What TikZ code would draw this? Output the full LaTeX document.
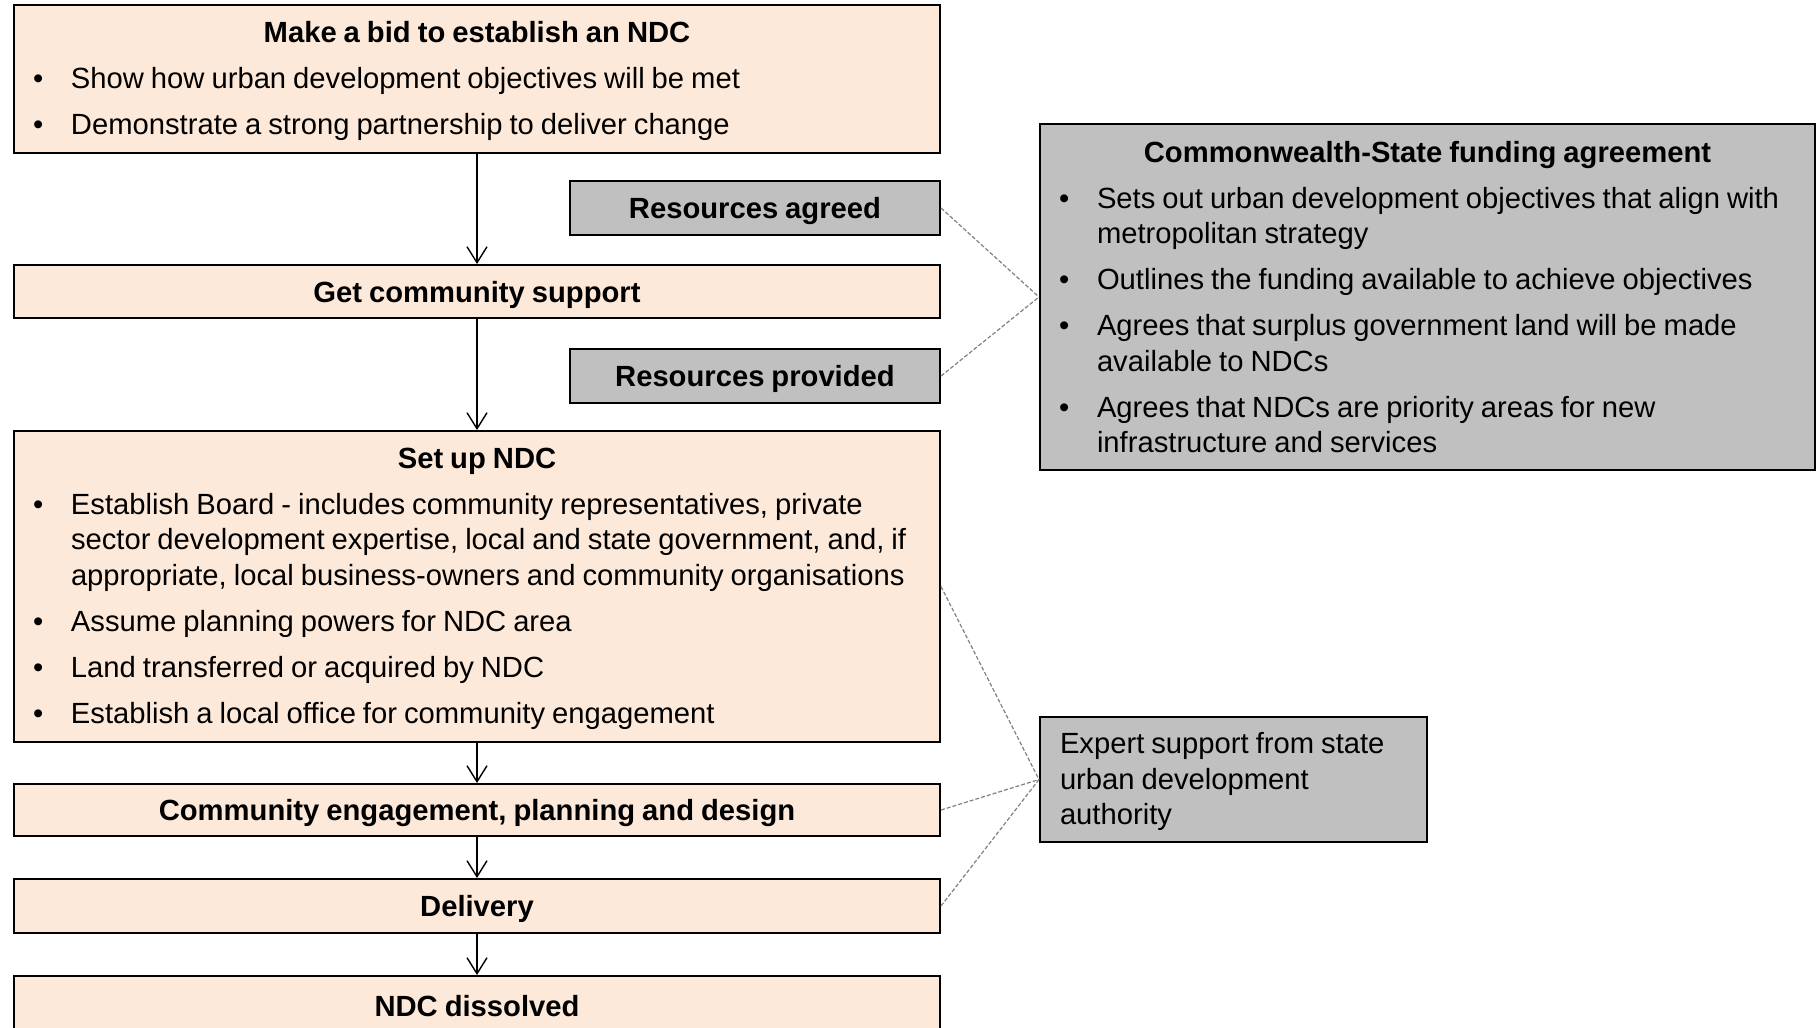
\documentclass[tikz,border=0pt]{standalone}
\usepackage{fontspec}
\setmainfont{Liberation Sans}
\usepackage{xcolor}
\usepackage{tikz}
\usetikzlibrary{arrows.meta}

\definecolor{peach}{HTML}{FDE9D9}
\definecolor{boxgrey}{HTML}{C0C0C0}
\definecolor{linkgrey}{HTML}{808080}

\hyphenpenalty=10000
\exhyphenpenalty=10000

\newcommand{\boxtitle}[1]{{\centering\bfseries #1\par}}
\newcommand{\bul}[1]{{\raggedright\noindent\hangindent=19pt\hangafter=1\makebox[19pt][l]{\textbullet}#1\par}}

\tikzset{
  stagebox/.style={rectangle, draw, line width=1pt, fill=peach,
                   minimum width=463pt, inner sep=0pt},
  greybox/.style={rectangle, draw, line width=1pt, fill=boxgrey, inner sep=0pt},
  tightspace/.style={execute at begin node={\spaceskip=3.5pt plus 1.5pt minus 0.6pt\relax}},
  bodytext/.style={inner xsep=9.5pt, inner ysep=0pt,
                   font=\fontsize{14.6}{17.7}\selectfont,
                   execute at begin node={\setlength{\parskip}{5.3pt}%
                     \spaceskip=3.5pt plus 1.5pt minus 0.6pt\relax}},
  labeltext/.style={inner sep=0pt, yshift=-1.5pt,
                    font=\fontsize{14.6}{17.7}\selectfont\bfseries, tightspace}
}

\begin{document}
\begin{tikzpicture}[x=0.5pt, y=-0.5pt, ->, >={Straight Barb[length=8pt,width=10pt]}]

    \clip (0,0) rectangle (1816,1028);

    % stages on the left
    \node[stagebox, minimum height=74pt] (bid) at (477,79) {};
    \node[bodytext, text width=444pt, yshift=-1pt] (bidtxt) at (bid.center)
        {\boxtitle{Make a bid to establish an NDC}%
         \bul{Show how urban development objectives will be met}%
         \bul{Demonstrate a strong partnership to deliver change}};

    \node[stagebox, minimum height=26.5pt] (getsup) at (477,291.5) {};
    \node[labeltext] (getsuptxt) at (getsup.center) {Get community support};

    \node[stagebox, minimum height=155.5pt] (setup) at (477,586.5) {};
    \node[bodytext, text width=444pt, yshift=-1pt] (setuptxt) at (setup.center)
        {\boxtitle{Set up NDC}%
         \bul{Establish Board - includes community representatives, private\newline
              sector development expertise, local and state government, and, if\newline
              appropriate, local business-owners and community organisations}%
         \bul{Assume planning powers for NDC area}%
         \bul{Land transferred or acquired by NDC}%
         \bul{Establish a local office for community engagement}};

    \node[stagebox, minimum height=26pt] (engage) at (477,810) {};
    \node[labeltext] (engagetxt) at (engage.center) {Community engagement, planning and design};

    \node[stagebox, minimum height=27pt] (delivery) at (477,906) {};
    \node[labeltext] (deliverytxt) at (delivery.center) {Delivery};

    \node[stagebox, minimum height=27pt] (dissolved) at (477,1003) {};
    \node[labeltext] (dissolvedtxt) at (dissolved.center) {NDC dissolved};

    % resources
    \node[greybox, minimum width=185pt, minimum height=27pt] (resagreed) at (755,208) {};
    \node[labeltext] (resagreedtxt) at (resagreed.center) {Resources agreed};

    \node[greybox, minimum width=185pt, minimum height=27pt] (resprov) at (755,376) {};
    \node[labeltext] (resprovtxt) at (resprov.center) {Resources provided};

    % support on the right
    \node[greybox, minimum width=387.5pt, minimum height=173pt] (cwfund) at (1427.5,297) {};
    \node[bodytext, text width=368.5pt] (cwfundtxt) at (cwfund.center)
        {\boxtitle{Commonwealth-State funding agreement}%
         \bul{Sets out urban development objectives that align with\newline
              metropolitan strategy}%
         \bul{Outlines the funding available to achieve objectives}%
         \bul{Agrees that surplus government land will be made\newline
              available to NDCs}%
         \bul{Agrees that NDCs are priority areas for new\newline
              infrastructure and services}};

    \node[greybox, minimum width=193.5pt, minimum height=62.5pt] (expert) at (1233.5,779.5) {};
    \node[bodytext, inner xsep=10pt, text width=173.5pt, yshift=-1pt] (experttxt) at (expert.center)
        {\raggedright Expert support from state\newline urban development\newline authority};

    \path[line width=0.7pt]
    (bid) edge (getsup)
    (getsup) edge (setup)
    (setup) edge (engage)
    (engage) edge (delivery)
    (delivery) edge (dissolved);

    \path[-, draw=linkgrey, line width=0.6pt, dash pattern=on 2pt off 1pt]
    (resagreed.east) edge (cwfund.west)
    (resprov.east) edge (cwfund.west)
    (setup.east) edge (expert.west)
    (engage.east) edge (expert.west)
    (delivery.east) edge (expert.west);

\end{tikzpicture}
\end{document}
